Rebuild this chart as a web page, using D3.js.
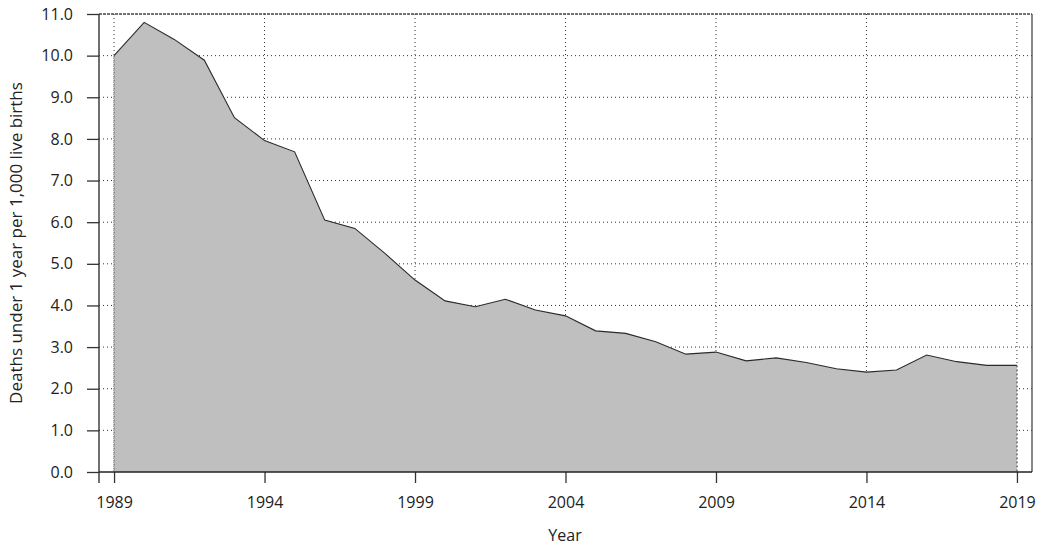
<!DOCTYPE html>
<html>
<head>
	<script src="https://cdn.jsdelivr.net/npm/d3@7"></script>
	<style>
		body { margin: 0; background: white; }
		text { font-family: "Open Sans", sans-serif; fill: #222; }
	</style>
</head>
<body>
	<script>
		// infant deaths per 1,000 live births
		var years = [1989, 1990, 1991, 1992, 1993, 1994, 1995, 1996, 1997, 1998,
			1999, 2000, 2001, 2002, 2003, 2004, 2005, 2006, 2007, 2008,
			2009, 2010, 2011, 2012, 2013, 2014, 2015, 2016, 2017, 2018, 2019];
		var rates = [10.0, 10.8, 10.39, 9.89, 8.51, 7.96, 7.69, 6.05, 5.85, 5.25,
			4.61, 4.11, 3.97, 4.15, 3.89, 3.75, 3.39, 3.33, 3.13, 2.83,
			2.88, 2.67, 2.74, 2.63, 2.48, 2.40, 2.45, 2.81, 2.65, 2.56, 2.56];
		var xTicks = [1989, 1994, 1999, 2004, 2009, 2014, 2019];
		var yTicks = [0, 1, 2, 3, 4, 5, 6, 7, 8, 9, 10, 11];

		var width = 1046, height = 547;
		// note: "top" is taken by window.top, so plot edges get a prefix
		var plotL = 99, plotR = 1032, plotT = 14, plotB = 472;

		var svg = d3.select("body").append("svg")
			.attr("width", width)
			.attr("height", height);

		var x = d3.scaleLinear().domain([1988.5, 2019.5]).range([plotL, plotR]);
		var y = d3.scaleLinear().domain([0, 11]).range([plotB, plotT]);

		var data = years.map(function(d, i) { return { year: d, v: rates[i] }; });

		// grid
		svg.append("g").selectAll("line").data(yTicks.slice(1, 11)).enter().append("line")
			.attr("x1", plotL).attr("x2", plotR)
			.attr("y1", function(d) { return y(d); })
			.attr("y2", function(d) { return y(d); })
			.attr("stroke", "#333").attr("stroke-width", 1)
			.attr("stroke-dasharray", "1,3");
		svg.append("g").selectAll("line").data(xTicks).enter().append("line")
			.attr("x1", function(d) { return x(d); })
			.attr("x2", function(d) { return x(d); })
			.attr("y1", plotT).attr("y2", plotB)
			.attr("stroke", "#333").attr("stroke-width", 1)
			.attr("stroke-dasharray", "1,3");

		// area + outline
		var area = d3.area()
			.x(function(d) { return x(d.year); })
			.y0(y(0))
			.y1(function(d) { return y(d.v); });
		var line = d3.line()
			.x(function(d) { return x(d.year); })
			.y(function(d) { return y(d.v); });

		svg.append("path").datum(data)
			.attr("d", area)
			.attr("fill", "#bfbfbf");
		svg.append("path").datum(data)
			.attr("d", line)
			.attr("fill", "none")
			.attr("stroke", "#2a2a2a")
			.attr("stroke-width", 1.1);

		// edge grid lines show through at the area sides
		svg.append("g").selectAll("line").data([1989, 2019]).enter().append("line")
			.attr("x1", function(d) { return x(d); })
			.attr("x2", function(d) { return x(d); })
			.attr("y1", function(d) { return y(rates[years.indexOf(d)]); })
			.attr("y2", plotB)
			.attr("stroke", "#555").attr("stroke-width", 1)
			.attr("stroke-dasharray", "2,2");

		// frame top + right
		svg.append("line")
			.attr("x1", plotL).attr("x2", plotR).attr("y1", plotT).attr("y2", plotT)
			.attr("stroke", "#444").attr("stroke-width", 1.4)
			.attr("stroke-dasharray", "3,1");
		svg.append("line")
			.attr("x1", plotR).attr("x2", plotR).attr("y1", plotT).attr("y2", plotB)
			.attr("stroke", "#555").attr("stroke-width", 1.4);

		// axes
		var yAxis = d3.axisLeft(y)
			.tickValues(yTicks)
			.tickSize(12)
			.tickPadding(14)
			.tickFormat(d3.format(".1f"));
		var gy = svg.append("g")
			.attr("transform", "translate(" + plotL + ",0)")
			.call(yAxis);
		gy.select(".domain").remove();
		gy.append("line")
			.attr("x1", 0).attr("x2", 0).attr("y1", plotT).attr("y2", plotB + 11)
			.attr("stroke", "#333").attr("stroke-width", 1.4);

		var xAxis = d3.axisBottom(x)
			.tickValues(xTicks)
			.tickSize(11)
			.tickPadding(14)
			.tickFormat(d3.format("d"));
		var gx = svg.append("g")
			.attr("transform", "translate(0," + plotB + ")")
			.call(xAxis);
		gx.select(".domain").remove();
		gx.append("line")
			.attr("x1", plotL).attr("x2", plotR).attr("y1", 0).attr("y2", 0)
			.attr("stroke", "#222").attr("stroke-width", 1.6);

		svg.selectAll(".tick line").attr("stroke", "#333").attr("stroke-width", 1.3);
		svg.selectAll(".tick text").style("font-size", "16px").style("fill", "#222");

		// axis titles
		svg.append("text")
			.attr("x", 565)
			.attr("y", 541)
			.attr("text-anchor", "middle")
			.style("font-size", "16px")
			.text("Year");
		svg.append("text")
			.attr("transform", "translate(22," + (plotT + plotB) / 2 + ") rotate(-90)")
			.attr("text-anchor", "middle")
			.style("font-size", "17px")
			.text("Deaths under 1 year per 1,000 live births");
	</script>
</body>
</html>
